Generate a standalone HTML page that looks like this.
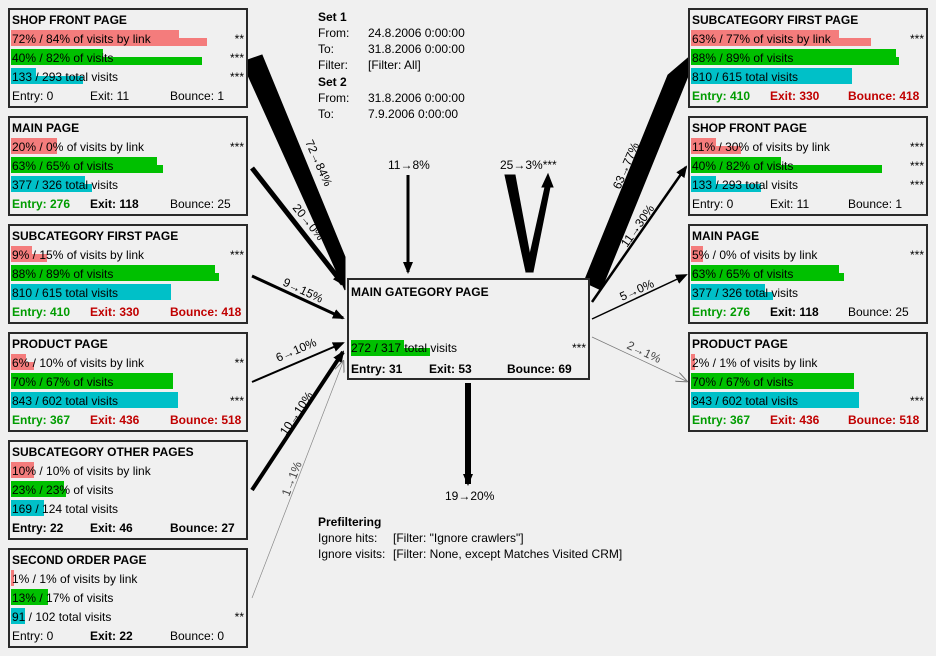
<!DOCTYPE html>
<html><head><meta charset="utf-8"><style>
body{margin:0;width:936px;height:656px;background:#f0f0f0;font-family:"Liberation Sans",sans-serif;font-size:12px;color:#000;position:relative;overflow:hidden}
.box{position:absolute;width:240px;height:100px;border:2px solid #2a2a2a;box-sizing:border-box;background:#f0f0f0}
.t{position:absolute;left:2px;top:3px;font-weight:bold;white-space:nowrap}
.b{position:absolute;left:1px}
.p{background:#f47c7c}.g{background:#00c000}.c{background:#00c0c8}
.r{position:absolute;left:2px;white-space:nowrap;line-height:14px}
.m{position:absolute;right:2px;line-height:14px}
.s{position:absolute;top:79px;white-space:nowrap;line-height:14px}
.bo{font-weight:bold}.gr{color:#009c00;font-weight:bold}.rd{color:#c00000;font-weight:bold}
.txt{position:absolute;white-space:nowrap;line-height:16px}
svg{position:absolute;left:0;top:0}
</style></head><body>
<svg width="936" height="656">
<defs>
<marker id="a" markerWidth="12" markerHeight="10" refX="10" refY="5" orient="auto" markerUnits="userSpaceOnUse"><path d="M0,0 L12,5 L0,10 Z" fill="#000"/></marker>
<marker id="ag" markerWidth="12" markerHeight="10" refX="10" refY="5" orient="auto" markerUnits="userSpaceOnUse"><path d="M0,0 L12,5 L0,10" fill="none" stroke="#777"/></marker>
</defs>
<g stroke="#000">
<polygon points="242,62 262,55 345,257 345,290" fill="#000"/>
<line x1="252" y1="168" x2="343" y2="284" stroke-width="5" marker-end="url(#a)"/>
<line x1="252" y1="276" x2="343" y2="318" stroke-width="3" marker-end="url(#a)"/>
<line x1="252" y1="382" x2="343" y2="343" stroke-width="2" marker-end="url(#a)"/>
<line x1="252" y1="490" x2="343" y2="352" stroke-width="4" marker-end="url(#a)"/>
<line x1="252" y1="598" x2="343" y2="362" stroke-width="0.7" stroke="#888" marker-end="url(#ag)"/>
<line x1="408" y1="175" x2="408" y2="272" stroke-width="3" marker-end="url(#a)"/>
<polygon points="505,175 515,175 533,272 526,272" fill="#000"/>
<polygon points="526,272 533,272 550,187 553,187 548,174 542,187 545,187" fill="#000"/>
<polygon points="584,282 601,290 688,76 688,58 668,75" fill="#000"/>
<line x1="592" y1="302" x2="686" y2="167" stroke-width="2.5" marker-end="url(#a)"/>
<line x1="592" y1="319" x2="686" y2="275" stroke-width="1.5" marker-end="url(#a)"/>
<line x1="592" y1="337" x2="686" y2="381" stroke-width="0.7" stroke="#777" marker-end="url(#ag)"/>
<line x1="468" y1="383" x2="468" y2="484" stroke-width="6" marker-end="url(#a)"/>
</g>
<g font-family="Liberation Sans" font-size="12" fill="#000">
<text transform="translate(305,142) rotate(66)">72→84%</text>
<text transform="translate(292,208) rotate(51)">20→0%</text>
<text transform="translate(282,285) rotate(25)">9→15%</text>
<text transform="translate(278,362) rotate(-23)">6→10%</text>
<text transform="translate(286,436) rotate(-56)">10→10%</text>
<text transform="translate(289,497) rotate(-69)" fill="#444">1→1%</text>
<text transform="translate(620,190) rotate(-67)">63→77%</text>
<text transform="translate(627,248) rotate(-55)">11→30%</text>
<text transform="translate(622,301) rotate(-24)">5→0%</text>
<text transform="translate(626,348) rotate(25)" fill="#444">2→1%</text>
<text x="388" y="169">11→8%</text>
<text x="500" y="169">25→3%***</text>
<text x="445" y="500">19→20%</text>
</g>
</svg>

<div class="txt" style="left:318px;top:9px"><b>Set 1</b></div>
<div class="txt" style="left:318px;top:25px">From:</div><div class="txt" style="left:368px;top:25px">24.8.2006 0:00:00</div>
<div class="txt" style="left:318px;top:41px">To:</div><div class="txt" style="left:368px;top:41px">31.8.2006 0:00:00</div>
<div class="txt" style="left:318px;top:57px">Filter:</div><div class="txt" style="left:368px;top:57px">[Filter: All]</div>
<div class="txt" style="left:318px;top:74px"><b>Set 2</b></div>
<div class="txt" style="left:318px;top:90px">From:</div><div class="txt" style="left:368px;top:90px">31.8.2006 0:00:00</div>
<div class="txt" style="left:318px;top:106px">To:</div><div class="txt" style="left:368px;top:106px">7.9.2006 0:00:00</div>
<div class="txt" style="left:318px;top:514px"><b>Prefiltering</b></div>
<div class="txt" style="left:318px;top:530px">Ignore hits:</div><div class="txt" style="left:393px;top:530px">[Filter: "Ignore crawlers"]</div>
<div class="txt" style="left:318px;top:546px">Ignore visits:</div><div class="txt" style="left:393px;top:546px">[Filter: None, except Matches Visited CRM]</div>

<!-- LEFT -->
<div class="box" style="left:8px;top:8px"><div class="t">SHOP FRONT PAGE</div>
<div class="b p" style="top:20px;width:168px;height:16px"></div><div class="b p" style="top:28px;width:196px;height:8px"></div>
<div class="b g" style="top:39px;width:92px;height:16px"></div><div class="b g" style="top:47px;width:191px;height:8px"></div>
<div class="b c" style="top:58px;width:25px;height:16px"></div><div class="b c" style="top:66px;width:72px;height:8px"></div>
<div class="r" style="top:22px">72% / 84% of visits by link</div><div class="m" style="top:22px">**</div>
<div class="r" style="top:41px">40% / 82% of visits</div><div class="m" style="top:41px">***</div>
<div class="r" style="top:60px">133 / 293 total visits</div><div class="m" style="top:60px">***</div>
<div class="s" style="left:2px">Entry: 0</div><div class="s" style="left:80px">Exit: 11</div><div class="s" style="left:160px">Bounce: 1</div></div>

<div class="box" style="left:8px;top:116px"><div class="t">MAIN PAGE</div>
<div class="b p" style="top:20px;width:46px;height:16px"></div>
<div class="b g" style="top:39px;width:146px;height:16px"></div><div class="b g" style="top:47px;width:152px;height:8px"></div>
<div class="b c" style="top:58px;width:74px;height:16px"></div><div class="b c" style="top:66px;width:81px;height:8px"></div>
<div class="r" style="top:22px">20% / 0% of visits by link</div><div class="m" style="top:22px">***</div>
<div class="r" style="top:41px">63% / 65% of visits</div>
<div class="r" style="top:60px">377 / 326 total visits</div>
<div class="s gr" style="left:2px">Entry: 276</div><div class="s bo" style="left:80px">Exit: 118</div><div class="s" style="left:160px">Bounce: 25</div></div>

<div class="box" style="left:8px;top:224px"><div class="t">SUBCATEGORY FIRST PAGE</div>
<div class="b p" style="top:20px;width:21px;height:16px"></div><div class="b p" style="top:28px;width:36px;height:8px"></div>
<div class="b g" style="top:39px;width:204px;height:16px"></div><div class="b g" style="top:47px;width:208px;height:8px"></div>
<div class="b c" style="top:58px;width:160px;height:16px"></div><div class="b c" style="top:66px;width:154px;height:8px"></div>
<div class="r" style="top:22px">9% / 15% of visits by link</div><div class="m" style="top:22px">***</div>
<div class="r" style="top:41px">88% / 89% of visits</div>
<div class="r" style="top:60px">810 / 615 total visits</div>
<div class="s gr" style="left:2px">Entry: 410</div><div class="s rd" style="left:80px">Exit: 330</div><div class="s rd" style="left:160px">Bounce: 418</div></div>

<div class="box" style="left:8px;top:332px"><div class="t">PRODUCT PAGE</div>
<div class="b p" style="top:20px;width:15px;height:16px"></div><div class="b p" style="top:28px;width:23px;height:8px"></div>
<div class="b g" style="top:39px;width:162px;height:16px"></div><div class="b g" style="top:47px;width:155px;height:8px"></div>
<div class="b c" style="top:58px;width:167px;height:16px"></div><div class="b c" style="top:66px;width:152px;height:8px"></div>
<div class="r" style="top:22px">6% / 10% of visits by link</div><div class="m" style="top:22px">**</div>
<div class="r" style="top:41px">70% / 67% of visits</div>
<div class="r" style="top:60px">843 / 602 total visits</div><div class="m" style="top:60px">***</div>
<div class="s gr" style="left:2px">Entry: 367</div><div class="s rd" style="left:80px">Exit: 436</div><div class="s rd" style="left:160px">Bounce: 518</div></div>

<div class="box" style="left:8px;top:440px"><div class="t">SUBCATEGORY OTHER PAGES</div>
<div class="b p" style="top:20px;width:23px;height:16px"></div>
<div class="b g" style="top:39px;width:53px;height:16px"></div><div class="b g" style="top:47px;width:55px;height:8px"></div>
<div class="b c" style="top:58px;width:33px;height:16px"></div>
<div class="r" style="top:22px">10% / 10% of visits by link</div>
<div class="r" style="top:41px">23% / 23% of visits</div>
<div class="r" style="top:60px">169 / 124 total visits</div>
<div class="s bo" style="left:2px">Entry: 22</div><div class="s bo" style="left:80px">Exit: 46</div><div class="s bo" style="left:160px">Bounce: 27</div></div>

<div class="box" style="left:8px;top:548px"><div class="t">SECOND ORDER PAGE</div>
<div class="b p" style="top:20px;width:3px;height:16px"></div>
<div class="b g" style="top:39px;width:37px;height:16px"></div>
<div class="b c" style="top:58px;width:14px;height:16px"></div>
<div class="r" style="top:22px">1% / 1% of visits by link</div>
<div class="r" style="top:41px">13% / 17% of visits</div>
<div class="r" style="top:60px">91 / 102 total visits</div><div class="m" style="top:60px">**</div>
<div class="s" style="left:2px">Entry: 0</div><div class="s bo" style="left:80px">Exit: 22</div><div class="s" style="left:160px">Bounce: 0</div></div>

<!-- RIGHT -->
<div class="box" style="left:688px;top:8px"><div class="t">SUBCATEGORY FIRST PAGE</div>
<div class="b p" style="top:20px;width:148px;height:16px"></div><div class="b p" style="top:28px;width:180px;height:8px"></div>
<div class="b g" style="top:39px;width:205px;height:16px"></div><div class="b g" style="top:47px;width:208px;height:8px"></div>
<div class="b c" style="top:58px;width:161px;height:16px"></div><div class="b c" style="top:66px;width:153px;height:8px"></div>
<div class="r" style="top:22px">63% / 77% of visits by link</div><div class="m" style="top:22px">***</div>
<div class="r" style="top:41px">88% / 89% of visits</div>
<div class="r" style="top:60px">810 / 615 total visits</div>
<div class="s gr" style="left:2px">Entry: 410</div><div class="s rd" style="left:80px">Exit: 330</div><div class="s rd" style="left:158px">Bounce: 418</div></div>

<div class="box" style="left:688px;top:116px"><div class="t">SHOP FRONT PAGE</div>
<div class="b p" style="top:20px;width:25px;height:16px"></div><div class="b p" style="top:28px;width:50px;height:8px"></div>
<div class="b g" style="top:39px;width:90px;height:16px"></div><div class="b g" style="top:47px;width:191px;height:8px"></div>
<div class="b c" style="top:58px;width:25px;height:16px"></div><div class="b c" style="top:66px;width:70px;height:8px"></div>
<div class="r" style="top:22px">11% / 30% of visits by link</div><div class="m" style="top:22px">***</div>
<div class="r" style="top:41px">40% / 82% of visits</div><div class="m" style="top:41px">***</div>
<div class="r" style="top:60px">133 / 293 total visits</div><div class="m" style="top:60px">***</div>
<div class="s" style="left:2px">Entry: 0</div><div class="s" style="left:80px">Exit: 11</div><div class="s" style="left:158px">Bounce: 1</div></div>

<div class="box" style="left:688px;top:224px"><div class="t">MAIN PAGE</div>
<div class="b p" style="top:20px;width:12px;height:16px"></div>
<div class="b g" style="top:39px;width:148px;height:16px"></div><div class="b g" style="top:47px;width:153px;height:8px"></div>
<div class="b c" style="top:58px;width:74px;height:16px"></div><div class="b c" style="top:66px;width:82px;height:8px"></div>
<div class="r" style="top:22px">5% / 0% of visits by link</div><div class="m" style="top:22px">***</div>
<div class="r" style="top:41px">63% / 65% of visits</div>
<div class="r" style="top:60px">377 / 326 total visits</div>
<div class="s gr" style="left:2px">Entry: 276</div><div class="s bo" style="left:80px">Exit: 118</div><div class="s" style="left:158px">Bounce: 25</div></div>

<div class="box" style="left:688px;top:332px"><div class="t">PRODUCT PAGE</div>
<div class="b p" style="top:20px;width:4px;height:16px"></div>
<div class="b g" style="top:39px;width:163px;height:16px"></div><div class="b g" style="top:47px;width:156px;height:8px"></div>
<div class="b c" style="top:58px;width:168px;height:16px"></div><div class="b c" style="top:66px;width:153px;height:8px"></div>
<div class="r" style="top:22px">2% / 1% of visits by link</div>
<div class="r" style="top:41px">70% / 67% of visits</div>
<div class="r" style="top:60px">843 / 602 total visits</div><div class="m" style="top:60px">***</div>
<div class="s gr" style="left:2px">Entry: 367</div><div class="s rd" style="left:80px">Exit: 436</div><div class="s rd" style="left:158px">Bounce: 518</div></div>

<!-- CENTER -->
<div class="box" style="left:347px;top:278px;width:243px;height:102px"><div class="t" style="top:5px">MAIN GATEGORY PAGE</div>
<div class="b g" style="left:2px;top:60px;width:53px;height:16px"></div><div class="b g" style="left:2px;top:68px;width:79px;height:8px"></div>
<div class="r" style="top:61px">272 / 317 total visits</div><div class="m" style="top:61px">***</div>
<div class="s bo" style="left:2px;top:82px">Entry: 31</div><div class="s bo" style="left:80px;top:82px">Exit: 53</div><div class="s bo" style="left:158px;top:82px">Bounce: 69</div></div>
</body></html>
